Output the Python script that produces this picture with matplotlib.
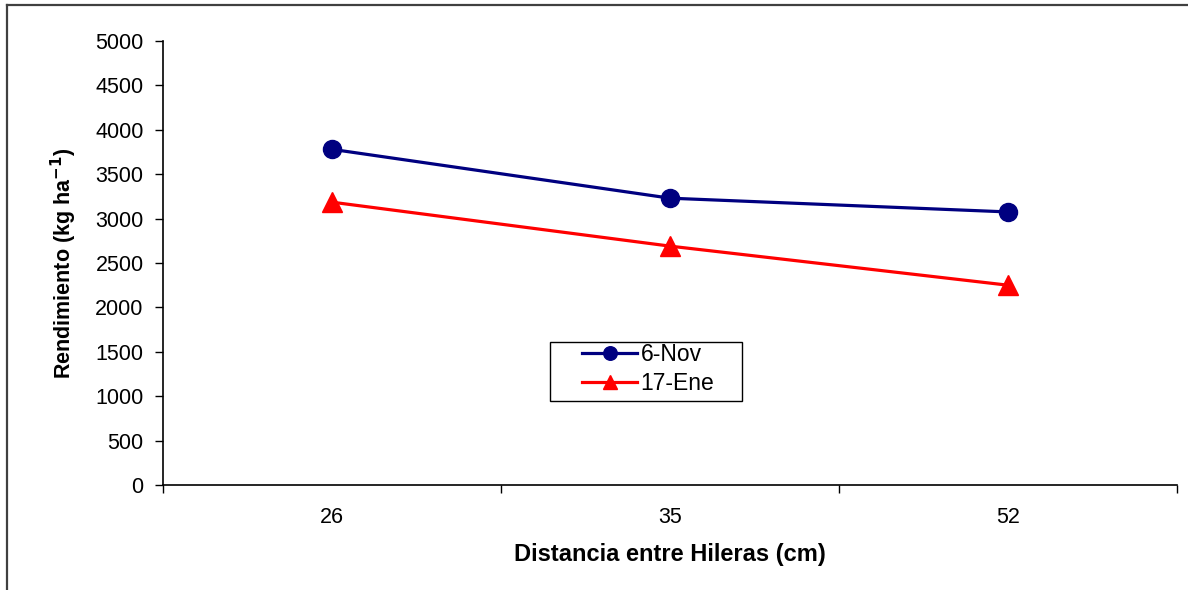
import matplotlib
matplotlib.use("Agg")
import matplotlib.pyplot as plt
from matplotlib.lines import Line2D
from matplotlib.patches import Rectangle
import numpy as np

categories = ["26", "35", "52"]
nov = [3780, 3230, 3075]
ene = [3185, 2690, 2250]
yticks = [0, 500, 1000, 1500, 2000, 2500, 3000, 3500, 4000, 4500, 5000]

plt.rcParams['font.family'] = ['Liberation Sans', 'DejaVu Sans']

fig = plt.figure(figsize=(11.88, 5.90), dpi=100)
ax = fig.add_axes([163/1188, 1-485/590, (1177-163)/1188, (485-41)/590])

x = np.arange(len(categories))
ax.plot(x, nov, color='#000080', lw=2.3, marker='o', ms=13, label='6-Nov')
ax.plot(x, ene, color='#FF0000', lw=2.3, marker='^', ms=14, label='17-Ene')

ax.set_xlim(-0.5, len(categories) - 0.5)
ax.set_ylim(0, 5000)
ax.set_yticks(yticks)
ax.set_yticklabels([str(v) for v in yticks])
ax.set_xticks(x)
ax.set_xticklabels(categories)
ax.set_xticks(np.arange(len(categories) + 1) - 0.5, minor=True)
ax.tick_params(axis='x', which='major', length=0, pad=16, labelsize=15.5)
ax.tick_params(axis='x', which='minor', length=6, width=1, direction='out', color='#000000')
ax.tick_params(axis='y', length=6, width=1, pad=8, labelsize=15.5)

for s in ['top', 'right']:
    ax.spines[s].set_visible(False)
for s in ['left', 'bottom']:
    ax.spines[s].set_linewidth(1.2)

ax.set_xlabel('Distancia entre Hileras (cm)', fontsize=17, fontweight='bold', labelpad=11)
ax.set_ylabel(r'Rendimiento (kg ha$^{\mathbf{-1}}$)', fontsize=15.5, fontweight='bold', labelpad=12)

# legend box (Excel style padding)
ax.add_patch(Rectangle(((550-163)/1014, (485-401)/444), (742-550)/1014, (401-342)/444,
                       transform=ax.transAxes, fill=True, facecolor='white',
                       edgecolor='#000000', lw=1.0, zorder=4))
leg = ax.legend(loc='center left', bbox_to_anchor=((582-163)/1014, (485-369)/444),
                frameon=False, fontsize=16.5, handlelength=2.4, markerscale=0.75,
                borderpad=0, labelspacing=0.22, handletextpad=0.15, borderaxespad=0)
leg.set_zorder(5)

fig.add_artist(Line2D([7/1188, 1.0], [1-5/590, 1-5/590], transform=fig.transFigure, color='#404040', lw=1.6))
fig.add_artist(Line2D([7/1188, 7/1188], [0, 1-5/590], transform=fig.transFigure, color='#404040', lw=1.6))

fig.savefig('out.png', dpi=100)
